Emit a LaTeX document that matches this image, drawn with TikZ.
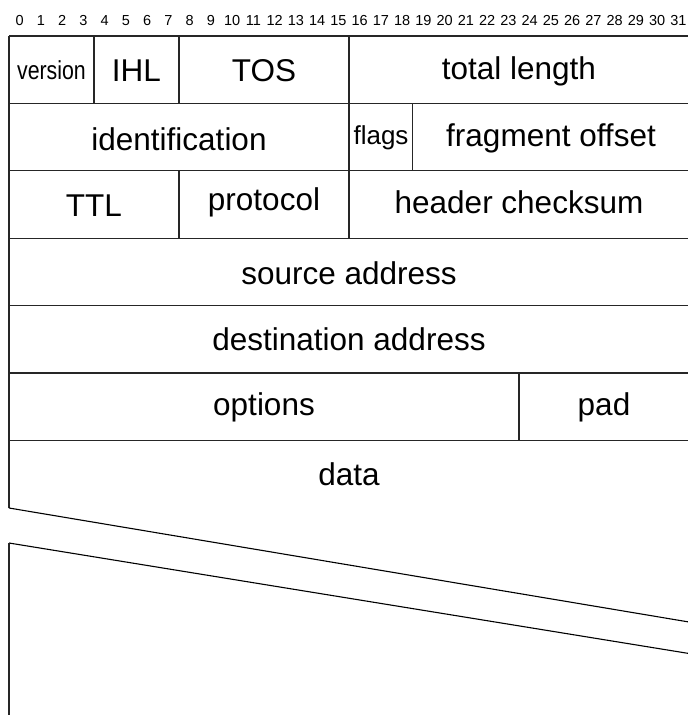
\documentclass[tikz,border=0pt]{standalone}
\usepackage{fontspec}
\setmainfont{Liberation Sans}
\begin{document}
\begin{tikzpicture}[x=1pt,y=-1pt,
  rule/.style={line width=1.3pt,draw=black!85},
  field/.style={anchor=base,inner sep=0pt,font=\fontsize{31.5}{31.5}\selectfont},
  smallfield/.style={anchor=base,inner sep=0pt,font=\fontsize{26}{26}\selectfont},
  bitnum/.style={anchor=base,inner sep=0pt,font=\fontsize{14.5}{14.5}\selectfont}]
\useasboundingbox (0,0) rectangle (688,715);

% bit positions above the header
\foreach \i in {0,...,31}
  \node[bitnum] (bit\i) at ({19.625+21.25*\i},25) {\i};

% row boundaries (one 32-bit word per row)
\foreach \y in {36,103.4,170.8,238.2,305.6,373,440.4}
  \draw[rule] (9,\y) -- (689,\y);

% outer frame of the header and the start of the data area
\draw[rule] (9,36) -- (9,508);
\draw[rule] (689,36) -- (689,622);

% field separators
\draw[rule] (94,36) -- (94,103.4);
\draw[rule] (179,36) -- (179,103.4);
\draw[rule] (349,36) -- (349,103.4);
\draw[rule] (349,103.4) -- (349,170.8);
\draw[rule] (412.75,103.4) -- (412.75,170.8);
\draw[rule] (179,170.8) -- (179,238.2);
\draw[rule] (349,170.8) -- (349,238.2);
\draw[rule] (519,373) -- (519,440.4);

% break in the data area
\draw[line width=1.1pt] (9,508) -- (689,622);
\draw[line width=1.1pt] (9,543) -- (689,653.5);
\draw[rule] (9,543) -- (9,720);

% field names
\node[smallfield,xscale=0.82] (version) at (51.5,79.3) {version};
\node[field] (ihl) at (136.5,81.5) {IHL};
\node[field] (tos) at (264,81.5) {TOS};
\node[field] (totlen) at (519,79) {total length};
\node[field] (ident) at (179,150) {identification};
\node[smallfield] (flags) at (381,144.3) {flags};
\node[field] (fragoff) at (551,146) {fragment offset};
\node[field] (ttl) at (94,216.5) {TTL};
\node[field] (proto) at (264,210) {protocol};
\node[field] (cksum) at (519,213.3) {header checksum};
\node[field] (src) at (349,284) {source address};
\node[field] (dst) at (349,350) {destination address};
\node[field] (opts) at (264,415) {options};
\node[field] (pad) at (604,415) {pad};
\node[field] (data) at (349,485.7) {data};
\end{tikzpicture}
\end{document}
